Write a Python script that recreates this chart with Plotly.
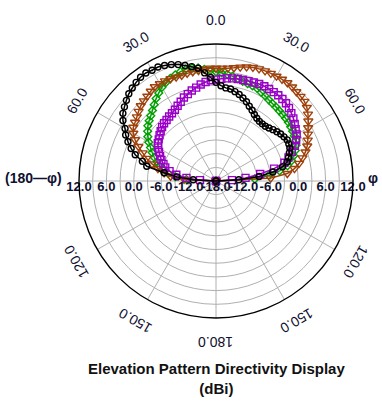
import math
import plotly.graph_objects as go

# ---- data (elevation angle in degrees, directivity in dBi) ----
theta = [-90, -87, -84, -81, -78, -75, -72, -69, -66, -63, -60, -57, -54, -51, -48, -45, -42, -39, -36, -33,
         -30, -27, -24, -21, -18, -15, -12, -9, -6, -3, 0, 3, 6, 9, 12, 15, 18, 21, 24, 27,
         30, 33, 36, 39, 42, 45, 48, 51, 54, 57, 60, 63, 66, 69, 72, 75, 78, 81, 84, 87, 90]

black = [-18, -13, -9.4, -6.5, -2.5, -1.3, 0.6, 1.9, 3.1, 4.2, 5.0, 6.3, 7.2, 7.8, 8.4, 9.0, 9.4, 9.8, 10.1, 10.2,
         10.0, 10.0, 9.7, 9.3, 8.8, 8.2, 7.6, 7.0, 5.8, 4.7, 3.6, 2.9, 2.5, 2.4, 2.0, 1.6, 1.1, 0.6, -0.1, -0.6,
         -1.2, -1.6, -1.85, -1.9, -1.85, -1.6, -1.2, -0.85, -0.5, -0.25, 0.0, -0.1, -0.3, -0.8, -1.3, -1.9, -3.1,
         -5.4, -8.5, -13, -18]

green = [-18, -11.5, -9.0, -7.4, -6.0, -5.2, -4.4, -3.5, -2.7, -1.9, -1.0, -0.2, 0.5, 1.2, 1.7, 2.2, 2.8, 3.5, 4.3, 5.0,
         5.7, 6.2, 6.6, 6.9, 7.2, 7.4, 7.3, 7.05, 6.6, 6.2, 5.9, 5.7, 5.5, 5.2, 4.9, 4.6, 4.4, 4.3, 4.2, 3.8,
         3.5, 3.2, 3.0, 2.85, 2.7, 2.6, 2.5, 2.4, 2.2, 2.0, 1.8, 1.6, 1.2, 0.6, -0.1, -0.9, -2.0, -3.9, -6.4,
         -9.5, -18]

purple = [-18, -14.5, -11.5, -9.2, -7.6, -6.5, -5.9, -5.2, -4.6, -4.0, -3.4, -2.8, -2.5, -2.1, -1.7, -1.3, -1.0, -0.8,
          -0.55, -0.3, 0.0, 0.5, 1.0, 1.6, 2.0, 2.5, 2.9, 3.4, 3.8, 4.1, 4.2, 4.4, 4.6, 4.75, 4.85, 4.9, 5.0, 5.1,
          5.25, 5.3, 5.25, 5.2, 5.2, 5.1, 4.9, 4.6, 4.2, 3.8, 3.3, 2.8, 2.4, 1.7, 0.9, -0.2, -1.3, -2.5, -5.0,
          -8.2, -11.5, -14.5, -18]

brown = [-18, -11, -8.0, -6.5, -5.0, -3.5, -2.0, -0.8, 0.6, 1.9, 2.9, 3.6, 3.9, 4.3, 4.8, 5.3, 5.6, 5.9, 6.3, 6.6,
         6.6, 6.6, 6.5, 6.35, 6.3, 6.4, 6.45, 6.5, 6.6, 6.75, 6.7, 6.75, 6.85, 7.1, 7.5, 7.85, 8.15, 8.3, 8.4, 8.45,
         8.5, 8.55, 8.6, 8.5, 8.3, 8.2, 8.05, 7.6, 6.9, 6.1, 5.3, 4.6, 4.0, 3.4, 2.6, 1.6, 0.6, -0.6, -2.3,
         -6.0, -18]

r_min, r_max = -18, 12
r_label_right = [-18, -12, -6, 0, 6, 12]
r_label_left = [-12, -6, 0, 6, 12]
angle_labels = [0, 30, 60, 120, 150, 180]

W, H = 382, 404
cx, cy, R = 216, 181, 137   # polar centre / radius in px

fig = go.Figure()

series = [
    (green, "#00a000", "diamond-open", 6),
    (brown, "#a0400a", "triangle-down-open", 8),
    (purple, "#9a00c8", "square-open", 7),
    (black, "#000000", "circle-open", 6),
]
for vals, col, sym, sz in series:
    fig.add_trace(go.Scatterpolar(
        r=vals, theta=theta, mode="lines+markers",
        line=dict(color=col, width=1.5),
        marker=dict(symbol=sym, size=sz, color=col, line=dict(width=1.4, color=col)),
        showlegend=False, hoverinfo="skip", cliponaxis=False))

tick_font = dict(family="Liberation Sans", size=13, color="#101030", weight="bold")
# radial tick labels mirrored on both sides of the horizontal axis
fig.add_trace(go.Scatterpolar(
    r=r_label_left, theta=[-90] * len(r_label_left), mode="text",
    text=[f"{v:.1f}" for v in r_label_left], textposition="bottom center",
    textfont=tick_font, showlegend=False, hoverinfo="skip", cliponaxis=False))
fig.add_trace(go.Scatterpolar(
    r=r_label_right, theta=[90] * len(r_label_right), mode="text",
    text=[f"{v:.1f}" for v in r_label_right], textposition="bottom center",
    textfont=tick_font, showlegend=False, hoverinfo="skip", cliponaxis=False))

fig.update_layout(
    width=W, height=H,
    margin=dict(l=0, r=0, t=0, b=0),
    paper_bgcolor="white", plot_bgcolor="white",
    polar=dict(
        domain=dict(x=[(cx - R) / W, (cx + R) / W], y=[1 - (cy + R) / H, 1 - (cy - R) / H]),
        bgcolor="white",
        radialaxis=dict(range=[r_min, r_max], dtick=3, showticklabels=False, ticks="",
                        showline=False, gridcolor="#b0b0b0", gridwidth=1.3),
        angularaxis=dict(rotation=90, direction="clockwise", dtick=30, showticklabels=False,
                         ticks="", showline=True, linecolor="black", linewidth=1.4,
                         gridcolor="#b0b0b0", gridwidth=1.3),
    ),
)

ann = []
lab_r = 161
for a in angle_labels:
    for side in ([1, -1] if a not in (0, 180) else [1]):
        ang = math.radians(a)
        x = cx + side * lab_r * math.sin(ang)
        y = cy - lab_r * math.cos(ang)
        ann.append(dict(x=x / W, y=1 - y / H, xref="paper", yref="paper", text=f"{a:.1f}",
                        showarrow=False, textangle=side * a if a != 0 else 0,
                        font=dict(family="Liberation Sans", size=14, color="#101030"),
                        xanchor="center", yanchor="middle"))
ann.append(dict(x=33 / W, y=1 - 178 / H, xref="paper", yref="paper", text="<b>(180—φ)</b>",
                showarrow=False, font=dict(family="Liberation Sans", size=14, color="#101030"),
                xanchor="center", yanchor="middle"))
ann.append(dict(x=373 / W, y=1 - 178 / H, xref="paper", yref="paper", text="<b>φ</b>",
                showarrow=False, font=dict(family="Liberation Sans", size=14, color="#101030"),
                xanchor="center", yanchor="middle"))
ann.append(dict(x=216 / W, y=1 - 378 / H, xref="paper", yref="paper",
                text="<b>Elevation Pattern Directivity Display</b><br><b>(dBi)</b>",
                showarrow=False, font=dict(family="Liberation Sans", size=15, color="#111111"),
                xanchor="center", yanchor="middle"))
fig.update_layout(annotations=ann)

fig.write_html("out.html")
